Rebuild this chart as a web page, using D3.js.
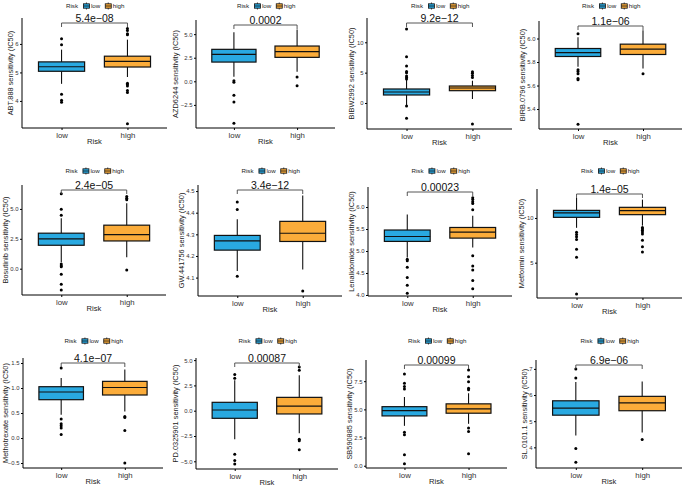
<!DOCTYPE html>
<html>
<head>
<meta charset="utf-8">
<script src="https://cdn.jsdelivr.net/npm/d3@7"></script>
<style>
  body { margin: 0; background: white; }
  text { font-family: "Liberation Sans", Arial, sans-serif; }
</style>
</head>
<body>
<div id="chart"></div>
<script>
// values
let groups = ['low', 'high'];
let drugs = ['ABT.888', 'AZD6244', 'BIBW2992', 'BIRB.0796', 'Bosutinib', 'GW.441756',
    'Lenalidomide', 'Metformin', 'Methotrexate', 'PD.0325901', 'SB590885', 'SL.0101.1'];
let pValues = ['5.4e\u221208', '0.0002', '9.2e\u221212', '1.1e\u221206', '2.4e\u221205', '3.4e\u221212',
    '0.00023', '1.4e\u221205', '4.1e\u221207', '0.00087', '0.00099', '6.9e\u221206'];

// [whisker low, q1, median, q3, whisker high]
let lowBox = [
    [4.6, 5.04, 5.2, 5.37, 5.8],
    [0.49, 2.04, 2.86, 3.39, 5.2],
    [-0.33, 1.32, 1.81, 2.31, 3.79],
    [5.76, 5.847, 5.88, 5.915, 6.01],
    [0.54, 1.96, 2.49, 2.97, 4.22],
    [4.13, 4.227, 4.27, 4.295, 4.37],
    [4.85, 5.218, 5.33, 5.477, 5.83],
    [8.9, 10.07, 10.56, 10.85, 12.24],
    [0.466, 0.766, 0.92, 1.026, 1.2],
    [-2.81, -0.75, 0.07, 0.83, 3.0],
    [3.54, 4.42, 4.89, 5.24, 6.1],
    [4.45, 5.23, 5.5, 5.78, 6.5]
];
let highBox = [
    [4.84, 5.19, 5.39, 5.57, 6.15],
    [1.02, 2.54, 3.14, 3.74, 5.5],
    [0.66, 2.03, 2.47, 2.8, 3.67],
    [5.745, 5.864, 5.91, 5.952, 6.07],
    [0.95, 2.32, 2.85, 3.64, 5.48],
    [4.137, 4.267, 4.305, 4.36, 4.48],
    [5.08, 5.293, 5.43, 5.535, 5.8],
    [9.14, 10.37, 10.82, 11.19, 12.05],
    [0.53, 0.86, 1.01, 1.133, 1.37],
    [-2.22, -0.32, 0.46, 1.32, 3.5],
    [3.72, 4.66, 5.04, 5.49, 6.43],
    [4.57, 5.4, 5.7, 5.95, 6.52]
];
let lowOut = [
    [6.18, 5.97, 4.23, 4.02, 3.95],
    [0.07, -0.1, -1.48, -2.19, -4.45],
    [3.95, 4.2, 4.45, 5.0, 5.2, 6.1, 7.6, 12.2, -0.5, -2.5],
    [6.04, 5.735, 5.72, 5.7, 5.66, 5.65, 5.27],
    [6.26, 4.98, 4.47, 0.39, 0.25, 0.17, -0.47, -1.31, -1.79],
    [4.45, 4.415, 4.106],
    [4.81, 4.78, 4.63, 4.4, 4.22, 4.04],
    [8.4, 8.16, 7.9, 7.6, 6.5, 5.6, 1.5],
    [1.4, 0.38, 0.286, 0.246, 0.2, 0.072],
    [3.58, 3.2, -4.29, -4.92, -5.27],
    [8.14, 7.32, 7.02, 6.81, 2.98, 2.74, 0.97, 0.18],
    [7.0, 6.65, 3.96, 3.43]
];
let highOut = [
    [6.54, 6.47, 6.36, 6.32, 4.62, 4.58, 4.52, 4.37, 4.3, 3.2],
    [0.46, -0.46],
    [4.2, 4.55, 4.9, 5.15, -3.45],
    [5.7],
    [6.04, 5.9, 5.76, -0.11],
    [4.038],
    [6.21, 6.17, 6.12, 6.08, 5.94, 4.89, 4.66, 4.57, 4.33, 4.14],
    [8.94, 8.79, 8.64, 8.42, 8.2, 7.52, 6.78, 6.2],
    [0.43, 0.41, 0.15, -0.5],
    [4.33, 4.0, -2.81, -2.98, -3.86],
    [8.5, 7.9, 7.46, 6.88, 6.73, 3.34, 3.04, 1.06],
    [4.3]
];
let yDomains = [
    [3.05, 6.91], [-4.95, 6.5], [-4.28, 14.0], [5.23, 6.149],
    [-2.2, 7.0], [4.015, 4.528], [3.977, 6.455], [1.05, 13.24],
    [-0.6, 1.6], [-5.76, 5.21], [-0.2, 9.38], [3.21, 7.34]
];
let yTicks = [
    [4, 5, 6], [-2.5, 0, 2.5, 5], [0, 5, 10], [5.4, 5.6, 5.8, 6.0],
    [0, 2.5, 5], [4.1, 4.2, 4.3, 4.4, 4.5], [4, 4.5, 5, 5.5, 6], [5, 10],
    [-0.5, 0, 0.5, 1, 1.5], [-5, -2.5, 0, 2.5, 5], [0, 2.5, 5, 7.5], [4, 5, 6, 7]
];

// layout: plot box of each panel [left, top, right, bottom]
let boxes = [
    [22, 18, 167, 128], [196, 20, 335, 128], [367, 18, 512, 129], [539, 21, 682, 129],
    [22, 185, 166, 295], [198, 185, 342, 296], [368, 187, 512, 296], [537, 189, 682, 298],
    [23, 358, 163, 468], [196, 358, 338, 469], [366, 360, 507, 468], [536, 360, 682, 468]
];
let legendY = [6, 171, 341];
let colors = { low: '#29a9e1', high: '#fbac3a' };

let width = 685;
let height = 487;

let svg = d3
    .select('#chart')
    .append('svg')
    .attr('width', width)
    .attr('height', height)
    .style('background', 'white');

drugs.forEach((drug, i) => {
    let [left, top, right, bottom] = boxes[i];
    let g = svg.append('g').attr('class', 'panel');

    let xScale = d3.scalePoint().domain(groups).range([left, right]).padding(0.6);
    let yScale = d3.scaleLinear().domain(yDomains[i]).range([bottom, top]);
    let boxW = xScale.step() * 0.7;

    let allInt = yTicks[i].every(t => Number.isInteger(t));
    let yAxis = d3.axisLeft(yScale)
        .tickValues(yTicks[i])
        .tickSize(2)
        .tickPadding(1.5)
        .tickFormat(d3.format(allInt ? 'd' : '.1f'));
    let xAxis = d3.axisBottom(xScale).tickSize(2).tickPadding(2);

    let yg = g.append('g')
        .attr('transform', `translate(${left},0)`)
        .call(yAxis);
    yg.select('.domain').attr('d', `M0,${top}V${bottom}`);
    yg.selectAll('text').attr('font-size', 5.9).attr('fill', '#333');

    let xg = g.append('g')
        .attr('transform', `translate(0,${bottom})`)
        .call(xAxis);
    xg.select('.domain').attr('d', `M${left},0H${right}`);
    xg.selectAll('text').attr('font-size', 7.8).attr('fill', '#333');

    g.selectAll('.domain').attr('stroke', '#000').attr('stroke-width', 1);
    g.selectAll('.tick line').attr('stroke', '#000');

    // axis titles
    let maxW = d3.max(yg.selectAll('text').nodes(), n => n.getBBox().width);
    let titleX = Math.max(left - maxW - 8, 5.5);
    g.append('text')
        .text(`${drug} sensitivity (IC50)`)
        .attr('transform', `translate(${titleX},${(top + bottom) / 2})rotate(-90)`)
        .attr('text-anchor', 'middle')
        .attr('dy', '0.35em')
        .attr('font-size', 7.4)
        .attr('fill', '#222');
    g.append('text')
        .text('Risk')
        .attr('x', (left + right) / 2)
        .attr('y', bottom + 16)
        .attr('text-anchor', 'middle')
        .attr('font-size', 7.6)
        .attr('fill', '#222');

    // boxes
    let stats = [lowBox[i], highBox[i]];
    let outs = [lowOut[i], highOut[i]];
    groups.forEach((grp, k) => {
        let s = stats[k];
        let cx = xScale(grp);
        g.append('line')
            .attr('x1', cx).attr('x2', cx)
            .attr('y1', yScale(s[0])).attr('y2', yScale(s[4]))
            .attr('stroke', '#111').attr('stroke-width', 1.1);
        g.append('rect')
            .attr('x', cx - boxW / 2)
            .attr('width', boxW)
            .attr('y', yScale(s[3]))
            .attr('height', yScale(s[1]) - yScale(s[3]))
            .attr('fill', colors[grp])
            .attr('stroke', '#111')
            .attr('stroke-width', 1.2);
        g.append('line')
            .attr('x1', cx - boxW / 2).attr('x2', cx + boxW / 2)
            .attr('y1', yScale(s[2])).attr('y2', yScale(s[2]))
            .attr('stroke', '#111').attr('stroke-width', 1.2);
        g.selectAll(null)
            .data(outs[k])
            .enter()
            .append('circle')
            .attr('cx', cx)
            .attr('cy', d => yScale(d))
            .attr('r', 1.5)
            .attr('fill', '#000');
    });

    // significance bracket
    let by = top + 5;
    let x1 = xScale('low');
    let x2 = xScale('high');
    g.append('path')
        .attr('d', `M${x1},${by + 4}V${by}H${x2}V${by + 4}`)
        .attr('fill', 'none')
        .attr('stroke', '#444')
        .attr('stroke-width', 0.9);
    g.append('text')
        .text(pValues[i])
        .attr('x', (x1 + x2) / 2)
        .attr('y', by - 0.8)
        .attr('text-anchor', 'middle')
        .attr('font-size', 10.5)
        .attr('fill', '#111');

    // legend
    let row = Math.floor(i / 4);
    let lg = g.append('g');
    let cur = 0;
    let t = lg.append('text').text('Risk').attr('x', cur).attr('y', 0)
        .attr('dy', '0.35em').attr('font-size', 6.2).attr('fill', '#222');
    cur += t.node().getBBox().width + 4;
    groups.forEach(grp => {
        lg.append('line')
            .attr('x1', cur + 3.5).attr('x2', cur + 3.5)
            .attr('y1', -3.5).attr('y2', 3.5)
            .attr('stroke', '#111').attr('stroke-width', 0.8);
        lg.append('rect')
            .attr('x', cur + 0.5).attr('y', -2.2)
            .attr('width', 6).attr('height', 4.4)
            .attr('fill', colors[grp]).attr('stroke', '#111').attr('stroke-width', 0.8);
        lg.append('line')
            .attr('x1', cur + 0.5).attr('x2', cur + 6.5)
            .attr('y1', 0).attr('y2', 0)
            .attr('stroke', '#111').attr('stroke-width', 0.8);
        cur += 8;
        let lt = lg.append('text').text(grp).attr('x', cur).attr('y', 0)
            .attr('dy', '0.35em').attr('font-size', 6.2).attr('fill', '#222');
        cur += lt.node().getBBox().width + 4;
    });
    cur -= 4;
    lg.attr('transform', `translate(${(left + right) / 2 + 1 - cur / 2},${legendY[row]})`);
});
</script>
</body>
</html>
